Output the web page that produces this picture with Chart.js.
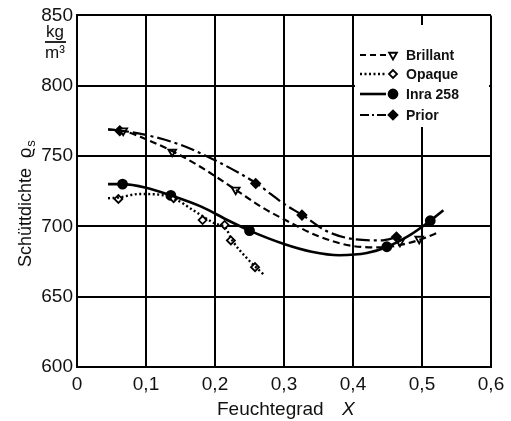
<!DOCTYPE html>
<html>
<head>
<meta charset="utf-8">
<script src="https://cdn.jsdelivr.net/npm/chart.js"></script>
<style>
  html, body { margin: 0; padding: 0; background: #fff; }
  #wrap { width: 511px; height: 421px; }
</style>
</head>
<body>
<div id="wrap"><canvas id="chart" width="511" height="421"></canvas></div>
<script>
// tick labels
const xTickLabels = ['0', '0,1', '0,2', '0,3', '0,4', '0,5', '0,6'];
const yTickLabels = ['600', '650', '700', '750', '800', '850'];
const seriesNames = ['Brillant', 'Opaque', 'Inra 258', 'Prior'];

// fitted curves
const brillantCurveX = [0.045, 0.07, 0.1, 0.14, 0.18, 0.23, 0.27, 0.3, 0.35, 0.4, 0.44, 0.47, 0.5, 0.525];
const brillantCurveY = [769, 767.5, 762, 753, 742, 726, 713, 705, 693, 686, 685, 687, 691, 696];
const opaqueCurveX = [0.045, 0.06, 0.09, 0.12, 0.14, 0.17, 0.2, 0.215, 0.225, 0.245, 0.27];
const opaqueCurveY = [720, 720.5, 723, 722.5, 720, 711, 702, 699, 690, 678, 666];
const inraCurveX = [0.045, 0.066, 0.1, 0.136, 0.18, 0.22, 0.25, 0.3, 0.34, 0.38, 0.42, 0.45, 0.48, 0.512, 0.531];
const inraCurveY = [730, 730, 727.5, 722, 714, 704, 697, 687.5, 682, 679.5, 681, 685.5, 693, 704, 711.5];
const priorCurveX = [0.045, 0.065, 0.1, 0.15, 0.2, 0.26, 0.3, 0.33, 0.36, 0.4, 0.44, 0.465];
const priorCurveY = [769, 768, 765, 758, 747, 730.5, 716, 707, 697, 691, 690, 692.5];

// measured points (markers)
const brillantPtsX = [0.067, 0.138, 0.23, 0.468, 0.496];
const brillantPtsY = [768, 753, 726, 689, 691];
const opaquePtsX = [0.06, 0.14, 0.182, 0.214, 0.223, 0.258];
const opaquePtsY = [719.5, 720, 704.5, 701, 690, 671];
const inraPtsX = [0.066, 0.136, 0.25, 0.449, 0.512];
const inraPtsY = [730, 722, 697, 685.5, 704];
const priorPtsX = [0.062, 0.259, 0.326, 0.463];
const priorPtsY = [768, 730.5, 708, 692.5];

function pts(xs, ys) {
  return xs.map((x, i) => ({ x: x, y: ys[i] }));
}

const styles = [
  { dash: [7, 4], legendDash: [6, 4], width: 2.2, point: 'triangle', rot: 180, fill: '#fff', r: 4.5 },
  { dash: [2, 2.5], legendDash: [2, 2.5], width: 2.4, point: 'rectRot', rot: 0, fill: '#fff', r: 4 },
  { dash: [], legendDash: [], width: 2.6, point: 'circle', rot: 0, fill: '#000', r: 4.5 },
  { dash: [14, 4, 3, 4], legendDash: [9, 3, 2, 3], width: 2.2, point: 'rectRot', rot: 0, fill: '#000', r: 4.5 }
];

const curves = [
  pts(brillantCurveX, brillantCurveY),
  pts(opaqueCurveX, opaqueCurveY),
  pts(inraCurveX, inraCurveY),
  pts(priorCurveX, priorCurveY)
];
const marks = [
  pts(brillantPtsX, brillantPtsY),
  pts(opaquePtsX, opaquePtsY),
  pts(inraPtsX, inraPtsY),
  pts(priorPtsX, priorPtsY)
];

const datasets = [];
curves.forEach(function (c, i) {
  datasets.push({
    label: seriesNames[i],
    data: c,
    showLine: true,
    borderColor: '#000',
    borderWidth: styles[i].width,
    borderDash: styles[i].dash,
    pointRadius: 0,
    cubicInterpolationMode: 'monotone',
    fill: false
  });
});
marks.forEach(function (m, i) {
  datasets.push({
    label: seriesNames[i] + ' pts',
    data: m,
    showLine: false,
    pointStyle: styles[i].point,
    rotation: styles[i].rot,
    pointRadius: styles[i].r,
    pointBackgroundColor: styles[i].fill,
    pointBorderColor: '#000',
    pointBorderWidth: 1.8
  });
});

const FONT = '"Liberation Sans", Arial, sans-serif';

// axis titles, unit and legend box
const extras = {
  id: 'extras',
  afterDatasetsDraw(chart) {
    const ctx = chart.ctx;
    ctx.save();
    // legend box over the grid
    ctx.fillStyle = '#fff';
    ctx.fillRect(355, 25, 134, 102);
    const rows = [55, 74, 94, 115];
    rows.forEach(function (y, i) {
      const s = styles[i];
      ctx.strokeStyle = '#000';
      ctx.lineWidth = s.width;
      ctx.setLineDash(s.legendDash);
      ctx.beginPath();
      ctx.moveTo(360, y);
      ctx.lineTo(386, y);
      ctx.stroke();
      ctx.setLineDash([]);
      ctx.fillStyle = s.fill;
      ctx.lineWidth = 1.8;
      Chart.helpers.drawPoint(ctx, { pointStyle: s.point, radius: s.r, rotation: s.rot, borderWidth: 1.8 }, 393, y);
      ctx.fillStyle = '#111';
      ctx.font = 'bold 14px ' + FONT;
      ctx.textAlign = 'left';
      ctx.textBaseline = 'middle';
      ctx.fillText(seriesNames[i], 406, y + 1);
    });
    ctx.restore();
  },
  afterDraw(chart) {
    const ctx = chart.ctx;
    ctx.save();
    ctx.fillStyle = '#111';
    ctx.strokeStyle = '#111';
    // unit kg / m³
    ctx.font = '17px ' + FONT;
    ctx.textAlign = 'center';
    ctx.textBaseline = 'alphabetic';
    ctx.fillText('kg', 55, 37);
    ctx.lineWidth = 1.8;
    ctx.beginPath();
    ctx.moveTo(45, 42);
    ctx.lineTo(66, 42);
    ctx.stroke();
    ctx.fillText('m\u00B3', 55, 58);
    // y title
    ctx.translate(31, 267);
    ctx.rotate(-Math.PI / 2);
    ctx.font = '18px ' + FONT;
    ctx.textAlign = 'left';
    const t = 'Sch\u00FCttdichte  \u03F1';
    ctx.fillText(t, 0, 0);
    const w = ctx.measureText(t).width;
    ctx.font = '13px ' + FONT;
    ctx.fillText('s', w + 1, 4);
    ctx.restore();
    // x title
    ctx.save();
    ctx.fillStyle = '#111';
    ctx.font = '19px ' + FONT;
    ctx.textAlign = 'left';
    ctx.textBaseline = 'middle';
    ctx.fillText('Feuchtegrad', 217, 410);
    ctx.font = 'italic 19px ' + FONT;
    ctx.fillText('X', 342, 410);
    ctx.restore();
  }
};

new Chart(document.getElementById('chart').getContext('2d'), {
  type: 'scatter',
  data: { datasets: datasets },
  options: {
    responsive: false,
    animation: false,
    devicePixelRatio: 1,
    layout: { padding: { top: 15, right: 20, left: 0, bottom: 0 } },
    plugins: { legend: { display: false }, tooltip: { enabled: false } },
    scales: {
      x: {
        type: 'linear',
        min: 0,
        max: 0.6,
        afterFit: function (s) { s.height = 54; },
        ticks: {
          stepSize: 0.1,
          padding: 6,
          color: '#111',
          font: { family: FONT, size: 19 },
          callback: function (v) { return xTickLabels[Math.round(v * 10)]; }
        },
        grid: { color: '#000', lineWidth: 2, drawTicks: false },
        border: { color: '#000', width: 2 }
      },
      y: {
        min: 600,
        max: 850,
        afterFit: function (s) { s.width = 77; },
        ticks: {
          stepSize: 50,
          padding: 4,
          color: '#111',
          font: { family: FONT, size: 19 },
          callback: function (v) { return yTickLabels[Math.round((v - 600) / 50)]; }
        },
        grid: { color: '#000', lineWidth: 2, drawTicks: false },
        border: { color: '#000', width: 2 }
      }
    }
  },
  plugins: [extras]
});
</script>
</body>
</html>
